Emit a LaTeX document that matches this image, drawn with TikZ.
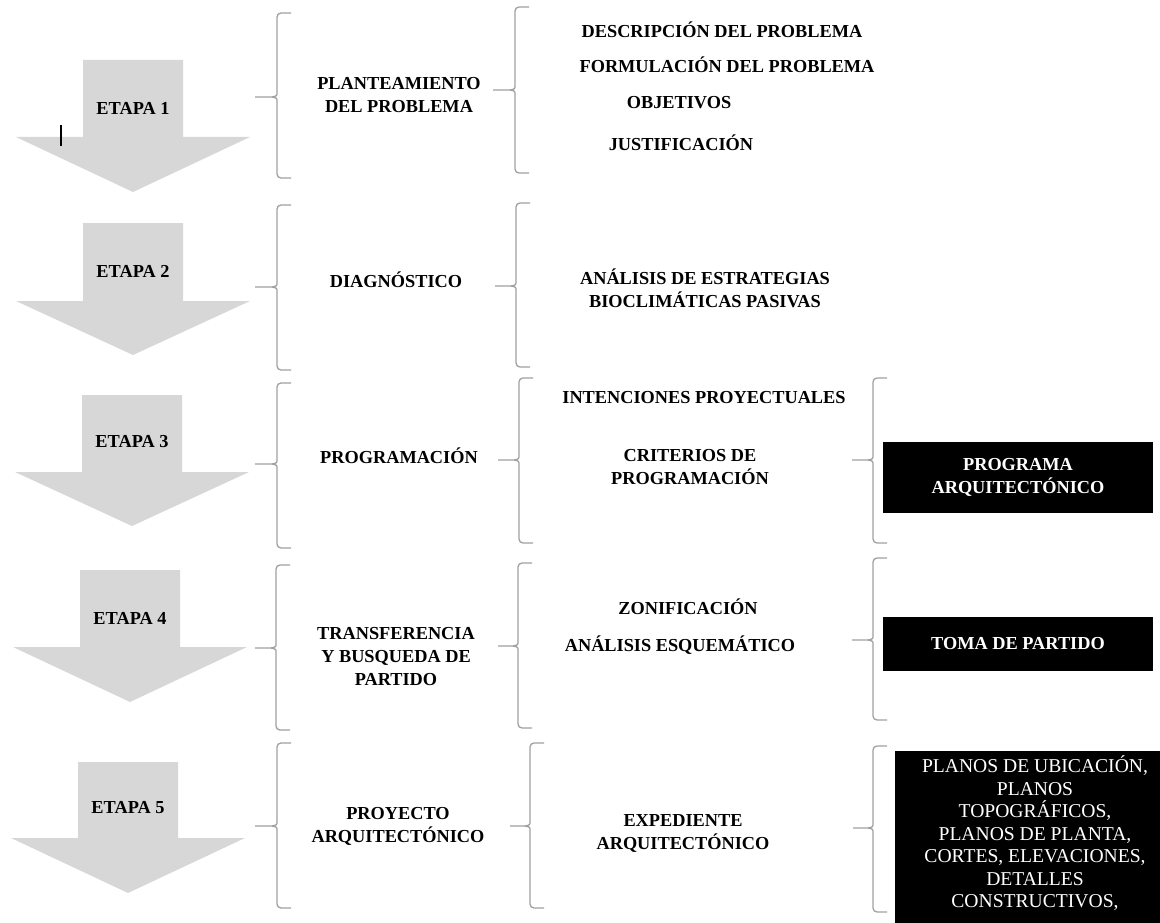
\documentclass[tikz,border=0pt]{standalone}
\usepackage{fontspec}
\setmainfont{Liberation Serif}
\usetikzlibrary{positioning}

\definecolor{flechagris}{RGB}{215,215,215}
\definecolor{llavegris}{RGB}{160,160,160}

\tikzset{
  every picture/.append style={line width=1pt},
  titulo/.style={font=\bfseries\fontsize{18.3}{23}\selectfont, align=center, inner sep=0pt},
  llave/.style={draw=llavegris, line width=1.3pt},
  caja/.style={fill=black, text=white, align=center, inner sep=0pt,
    font=\bfseries\fontsize{18.3}{23}\selectfont},
  cajalista/.style={fill=black, text=white, align=center, inner sep=0pt,
    font=\fontsize{19.6}{22.5}\selectfont}
}
% arrow of one stage: name, centre x, shaft top, head base, tip, label y, number
\newcommand{\etapa}[7]{%
  \fill[flechagris] (#2-50,#3) -- (#2+50,#3) -- (#2+50,#4) -- (#2+117,#4)
    -- (#2,#5) -- (#2-117,#4) -- (#2-50,#4) -- cycle;
  \node[titulo] (#1) at (#2,#6) {ETAPA #7};
}
% curly bracket: x, top, middle, bottom, stub x
\newcommand{\llave}[5]{%
  \draw[llave, rounded corners=4pt] (#1+14,#2) -- (#1,#2) -- (#1,#3-5);
  \draw[llave] (#1,#3-5) .. controls (#1,#3-1) .. (#1-5,#3) -- (#5,#3);
  \draw[llave, rounded corners=4pt] (#1+14,#4) -- (#1,#4) -- (#1,#3+5);
  \draw[llave] (#1,#3+5) .. controls (#1,#3+1) .. (#1-5,#3);
}

\begin{document}
\begin{tikzpicture}[x=1pt, y=-1pt]
\useasboundingbox (0,0) rectangle (1160,923);

% --- stages ---
\etapa{e1}{133}{60}{137}{192}{108}{1}
\etapa{e2}{133}{223}{301}{355}{271}{2}
\etapa{e3}{132}{395}{472}{526}{442}{3}
\etapa{e4}{130}{570}{647}{702}{618}{4}
\etapa{e5}{128}{762}{838}{893}{808}{5}
\draw[line width=1.5pt] (61,125) -- (61,146);

% --- first brackets ---
\llave{277}{13}{97}{178}{255}
\llave{277}{205}{287}{370}{255}
\llave{277}{383}{464}{548}{255}
\llave{276}{565}{648}{730}{255}
\llave{277}{743}{826}{908}{255}

\node[titulo] (plan) at (399,95) {PLANTEAMIENTO\\DEL PROBLEMA};
\node[titulo] (diag) at (396,280) {DIAGNÓSTICO};
\node[titulo] (prog) at (399,456) {PROGRAMACIÓN};
\node[titulo] (trans) at (396,657) {TRANSFERENCIA\\Y BUSQUEDA DE\\PARTIDO};
\node[titulo] (proy) at (398,826) {PROYECTO\\ARQUITECTÓNICO};

% --- second brackets ---
\llave{515}{7}{90}{173}{493}
\llave{516}{203}{286}{367}{495}
\llave{519}{378}{460}{543}{498}
\llave{518}{563}{646}{728}{498}
\llave{530}{743}{826}{908}{510}

\node[titulo] (desc) at (722,30) {DESCRIPCIÓN DEL PROBLEMA};
\node[titulo] (form) at (727,65) {FORMULACIÓN DEL PROBLEMA};
\node[titulo] (obj) at (679,103) {OBJETIVOS};
\node[titulo] (just) at (681,143) {JUSTIFICACIÓN};
\node[titulo] (anal) at (705,288) {ANÁLISIS DE ESTRATEGIAS\\BIOCLIMÁTICAS PASIVAS};
\node[titulo] (inten) at (704,398) {INTENCIONES PROYECTUALES};
\node[titulo] (crit) at (690,467) {CRITERIOS DE\\PROGRAMACIÓN};
\node[titulo] (zoni) at (688,607) {ZONIFICACIÓN};
\node[titulo] (esq) at (680,645) {ANÁLISIS ESQUEMÁTICO};
\node[titulo] (exp) at (683,833) {EXPEDIENTE\\ARQUITECTÓNICO};

% --- third brackets and results ---
\llave{873}{378}{460}{543}{852}
\llave{873}{558}{640}{720}{852}
\llave{873}{746}{828}{912}{853}

\node[caja, minimum width=270pt, minimum height=71pt] (programa) at (1018,477) {PROGRAMA\\ARQUITECTÓNICO};
\node[caja, minimum width=270pt, minimum height=54pt] (toma) at (1018,644) {TOMA DE PARTIDO};
\node[cajalista, minimum width=280pt, minimum height=166pt, anchor=north] (planos) at (1035,750)
  {PLANOS DE UBICACIÓN,\\PLANOS\\TOPOGRÁFICOS,\\PLANOS DE PLANTA,\\CORTES, ELEVACIONES,\\DETALLES\\CONSTRUCTIVOS,};
\fill (planos.south west) rectangle (1175,935);
\end{tikzpicture}
\end{document}
